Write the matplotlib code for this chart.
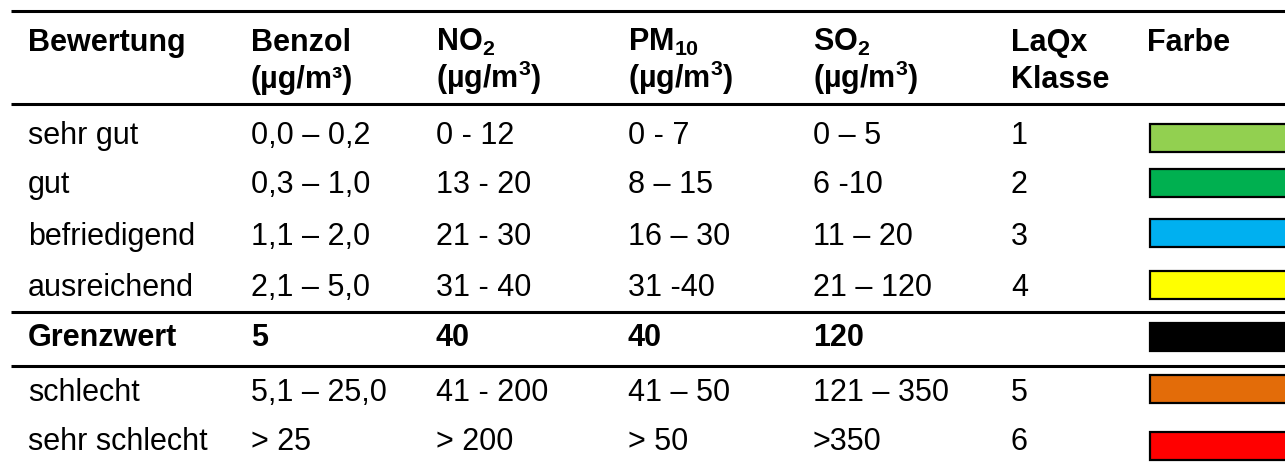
import matplotlib.pyplot as plt
from matplotlib.patches import Rectangle

plt.rcParams['font.family'] = ['Liberation Sans', 'DejaVu Sans']
plt.rcParams['mathtext.fontset'] = 'custom'
plt.rcParams['mathtext.rm'] = 'Liberation Sans'
plt.rcParams['mathtext.bf'] = 'Liberation Sans:bold'
plt.rcParams['mathtext.default'] = 'bf'

# table content
header1 = ["Bewertung", "Benzol", "NO$_2$", "PM$_{10}$", "SO$_2$", "LaQx", "Farbe"]
header2 = ["", "(µg/m³)", "(µg/m$^3$)", "(µg/m$^3$)", "(µg/m$^3$)", "Klasse", ""]

bewertung = ["sehr gut", "gut", "befriedigend", "ausreichend", "Grenzwert",
             "schlecht", "sehr schlecht"]
benzol = ["0,0 – 0,2", "0,3 – 1,0", "1,1 – 2,0", "2,1 – 5,0", "5", "5,1 – 25,0", "> 25"]
no2 = ["0 - 12", "13 - 20", "21 - 30", "31 - 40", "40", "41 - 200", "> 200"]
pm10 = ["0 - 7", "8 – 15", "16 – 30", "31 -40", "40", "41 – 50", "> 50"]
so2 = ["0 – 5", "6 -10", "11 – 20", "21 – 120", "120", "121 – 350", ">350"]
klasse = ["1", "2", "3", "4", "", "5", "6"]
farben = ["#92D050", "#00B050", "#00B0F0", "#FFFF00", "#000000", "#E36C09", "#FF0000"]
bold_rows = [False, False, False, False, True, False, False]

# layout (pixels)
col_x = [28, 251, 436, 628, 813, 1011, 1147]
row_y = [144, 193, 245, 296, 346, 401, 450]
swatch_top = [124, 169, 219, 271, 323, 375, 432]
line_y = [11, 104, 312, 366]
fs = 22

fig = plt.figure(figsize=(12.85, 4.63), dpi=100)
ax = fig.add_axes([0, 0, 1, 1])
ax.set_xlim(0, 1285)
ax.set_ylim(463, 0)
ax.axis('off')

for y in line_y:
    ax.plot([11, 1285], [y, y], color='black', lw=2.2, solid_capstyle='butt')

for x, h1, h2 in zip(col_x, header1, header2):
    ax.text(x, 51, h1, fontsize=fs, fontweight='bold', va='baseline', ha='left')
    if h2:
        ax.text(x, 88, h2, fontsize=fs, fontweight='bold', va='baseline', ha='left')

columns = [bewertung, benzol, no2, pm10, so2, klasse]
for i, y in enumerate(row_y):
    weight = 'bold' if bold_rows[i] else 'normal'
    for x, col in zip(col_x, columns):
        ax.text(x, y, col[i], fontsize=fs, fontweight=weight, va='baseline', ha='left')
    ax.add_patch(Rectangle((1150, swatch_top[i]), 160, 28, facecolor=farben[i],
                           edgecolor='black', lw=1.6))

plt.savefig("out.png", dpi=100)
